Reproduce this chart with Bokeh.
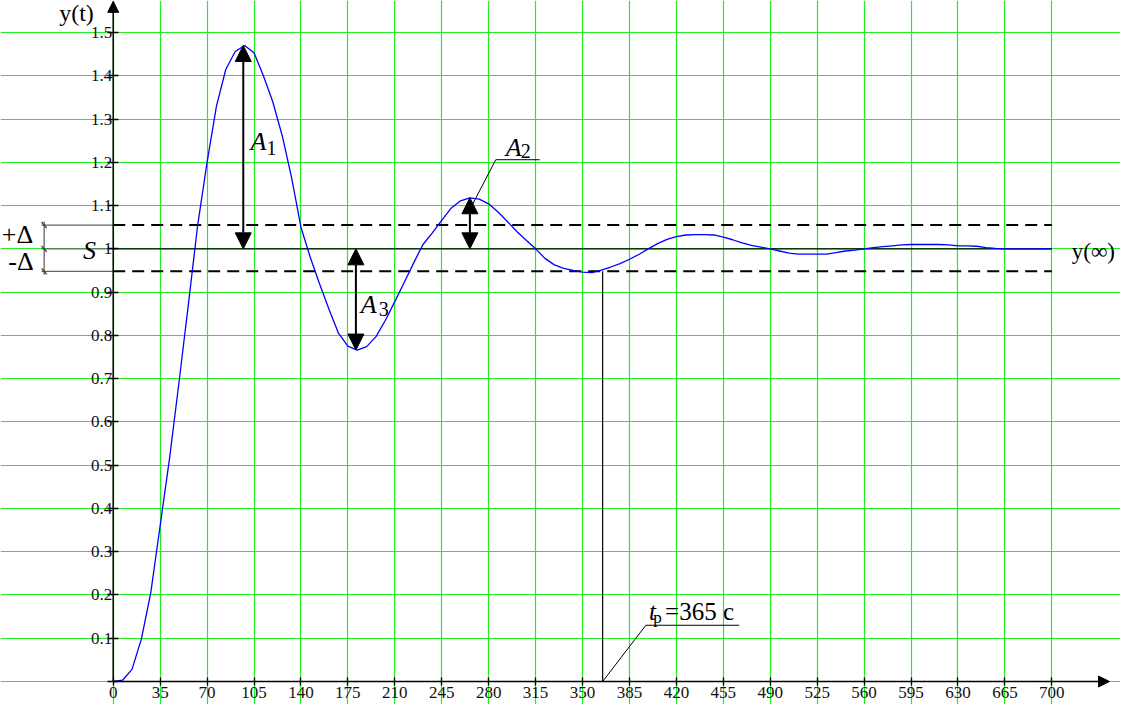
from bokeh.plotting import figure
from bokeh.models import Range1d, FixedTicker, CustomJSTickFormatter, Arrow, NormalHead
from bokeh.core.properties import value
from bokeh.embed import file_html
from bokeh.resources import INLINE

# ---- data ----
t_vals = [0, 7, 14, 21, 28, 35, 42, 49, 56, 63, 70, 77, 84, 91, 98, 105, 112, 119, 126, 133,
          140, 147, 154, 161, 168, 175, 182, 189, 196, 203, 210, 217, 224, 231, 238, 245, 252,
          259, 266, 273, 280, 287, 294, 301, 308, 315, 322, 329, 336, 343, 350, 357, 364, 371,
          378, 385, 392, 399, 406, 413, 420, 427, 434, 441, 448, 455, 462, 469, 476, 483, 490,
          497, 504, 511, 518, 525, 532, 539, 546, 553, 560, 567, 574, 581, 588, 595, 602, 609,
          616, 623, 630, 637, 644, 651, 658, 665, 672, 679, 686, 693, 700]
y_vals = [0.000, 0.003, 0.028, 0.098, 0.205, 0.360, 0.515, 0.690, 0.870, 1.055, 1.200, 1.330,
          1.415, 1.456, 1.470, 1.453, 1.400, 1.340, 1.262, 1.165, 1.050, 0.980, 0.918, 0.860,
          0.805, 0.775, 0.766, 0.774, 0.797, 0.835, 0.878, 0.922, 0.967, 1.010, 1.037, 1.066,
          1.094, 1.111, 1.118, 1.115, 1.104, 1.085, 1.063, 1.040, 1.020, 1.000, 0.978, 0.963,
          0.955, 0.950, 0.946, 0.945, 0.951, 0.958, 0.966, 0.976, 0.987, 1.000, 1.012, 1.022,
          1.028, 1.032, 1.033, 1.033, 1.032, 1.027, 1.021, 1.014, 1.008, 1.004, 1.000, 0.995,
          0.990, 0.988, 0.988, 0.988, 0.988, 0.991, 0.995, 0.997, 1.000, 1.003, 1.005, 1.007,
          1.009, 1.010, 1.010, 1.010, 1.010, 1.009, 1.007, 1.007, 1.006, 1.003, 1.001, 1.000,
          1.000, 1.000, 1.000, 1.000, 1.000]

x_ticks = [0, 35, 70, 105, 140, 175, 210, 245, 280, 315, 350, 385, 420, 455, 490, 525, 560,
           595, 630, 665, 700]
y_ticks = [0.0, 0.1, 0.2, 0.3, 0.4, 0.5, 0.6, 0.7, 0.8, 0.9, 1.0, 1.1, 1.2, 1.3, 1.4, 1.5]

y_final = 1.0
band_hi = 1.055
band_lo = 0.948
t_settle = 365
A1_t, A1_y = 97, 1.47
A2_t, A2_y = 266, 1.118
A3_t, A3_y = 181, 0.766
x_max = 700
y_max = 1.5

FONT = value("Liberation Serif")

p = figure(width=1120, height=704, x_range=Range1d(-84.05, 751.2),
           y_range=Range1d(-0.05315, 1.57396), output_backend="svg",
           toolbar_location=None, min_border=0)
p.outline_line_color = None
p.background_fill_color = "white"
p.border_fill_color = "white"

# grid
p.xgrid.ticker = FixedTicker(ticks=x_ticks)
p.ygrid.ticker = FixedTicker(ticks=y_ticks)
p.xgrid.bounds = (0, y_max)
p.ygrid.bounds = (0, x_max)
for g in (p.xgrid, p.ygrid):
    g.grid_line_color = "#22ee22"
    g.grid_line_width = 1.2
    g.grid_line_alpha = 1.0

# axes at data origin
xa = p.xaxis[0]
ya = p.yaxis[0]
xa.fixed_location = 0
ya.fixed_location = 0
xa.ticker = FixedTicker(ticks=x_ticks)
ya.ticker = FixedTicker(ticks=y_ticks)
ya.formatter = CustomJSTickFormatter(code="""
if (Math.abs(tick) < 1e-9) return "";
if (Math.abs(tick - 1) < 1e-9) return "1";
return tick.toFixed(1);
""")
for a in (xa, ya):
    a.axis_line_color = None
    a.major_tick_line_color = "black"
    a.major_tick_line_width = 1.3
    a.minor_tick_line_color = None
    a.major_label_text_font = "Liberation Serif"
    a.major_label_text_font_size = "17px"
    a.major_label_text_color = "#111111"
xa.major_tick_in = 4
xa.major_tick_out = 4
xa.major_label_standoff = 1
ya.major_tick_in = 5
ya.major_tick_out = 6
ya.major_label_standoff = -5

# axis lines with arrows
p.add_layout(Arrow(end=NormalHead(size=11, fill_color="black", line_color="black"),
                   x_start=0, y_start=0, x_end=743, y_end=0,
                   line_color="black", line_width=1.5))
p.add_layout(Arrow(end=NormalHead(size=11, fill_color="black", line_color="black"),
                   x_start=0, y_start=0, x_end=0, y_end=1.572,
                   line_color="black", line_width=1.5))

# band lines and final value
p.line([0, x_max], [band_hi, band_hi], line_color="black", line_width=2, line_dash="12 7")
p.line([0, x_max], [band_lo, band_lo], line_color="black", line_width=2, line_dash="12 7")
p.line([0, x_max], [y_final, y_final], line_color="black", line_width=1.4)

# left dimension lines
dim_x = -51.5
for lv in (band_hi, y_final, band_lo):
    p.line([-53.5, 0], [lv, lv], line_color="#666666", line_width=1.3)
p.line([dim_x, dim_x], [band_hi + 0.008, band_lo - 0.008], line_color="#555555", line_width=1.2)
p.segment(x0=[dim_x - 1.9] * 3, y0=[band_hi + 0.007, y_final + 0.007, band_lo + 0.007],
          x1=[dim_x + 1.9] * 3, y1=[band_hi - 0.007, y_final - 0.007, band_lo - 0.007],
          line_color="#333333", line_width=1.2)

# the response curve
p.line(t_vals, y_vals, line_color="#0000ff", line_width=1.3)

# settling-time marker and leaders
p.line([t_settle, t_settle], [0, band_lo], line_color="black", line_width=1.2)
p.line([t_settle, 397.2, 466.8], [0, 0.13, 0.13], line_color="black", line_width=1.0)
p.line([268, 285.3, 318.1], [1.103, 1.206, 1.206], line_color="black", line_width=1.0)

# amplitude arrows
def darrow(x, y0, y1):
    p.add_layout(Arrow(start=NormalHead(size=16, fill_color="black", line_color="black"),
                       end=NormalHead(size=16, fill_color="black", line_color="black"),
                       x_start=x, y_start=y0, x_end=x, y_end=y1,
                       line_color="black", line_width=2))

darrow(A1_t, y_final, A1_y)
darrow(A2_t, y_final, A2_y)
darrow(A3_t, y_final, A3_y)


def txt(x, y, s, size, italic=False, align="left"):
    p.text(x=[x], y=[y], text=[s], text_font=FONT, text_font_size=f"{size}px",
           text_font_style="italic" if italic else "normal", text_align=align,
           text_baseline="middle", text_color="black")


txt(-27.4, 1.544, "y(t)", 24, align="center")
txt(731, 0.994, "y(\u221e)", 23, align="center")
txt(-71.4, 1.033, "+\u0394", 26, align="center")
txt(-68.8, 0.971, "-\u0394", 26, align="center")
txt(-17.7, 0.995, "S", 26, italic=True, align="center")

# A1, A2, A3 labels
txt(102.4, 1.247, "A", 26, italic=True)
txt(114.4, 1.233, "1", 20)
txt(292.8, 1.234, "A", 26, italic=True)
txt(304.0, 1.2256, "2", 20)
txt(184.6, 0.871, "A", 26, italic=True)
txt(198.0, 0.860, "3", 20)

# t_p label
txt(399.5, 0.161, "t", 25, italic=True)
txt(402.8, 0.147, "p", 17)
txt(411.6, 0.161, "=365 c", 25)

open("out.html", "w").write(file_html(p, INLINE))
